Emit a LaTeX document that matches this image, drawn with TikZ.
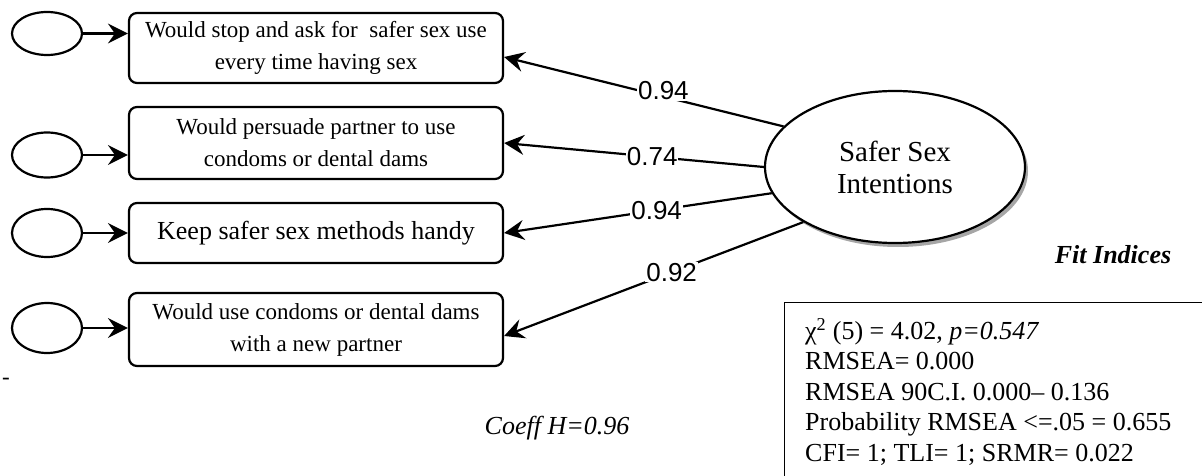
\documentclass[tikz,border=0pt]{standalone}
\usepackage{fontspec}
\setmainfont{Liberation Serif}
\newfontfamily\labfont{Liberation Sans}
\usetikzlibrary{arrows.meta,shapes.geometric,shadows}

\tikzset{
  itembox/.style={draw, line width=2.2pt, rounded corners=8pt, minimum width=374pt,
    align=center, inner sep=0pt, font=\fontsize{23}{32}\selectfont},
  errvar/.style={draw, ellipse, line width=2.2pt, minimum width=70pt, minimum height=46pt, inner sep=0pt},
  latent/.style={draw, ellipse, line width=2.2pt, minimum width=260pt, minimum height=152pt,
    inner sep=0pt, fill=white, align=center, font=\fontsize{29}{32}\selectfont,
    drop shadow={shadow xshift=3pt, shadow yshift=-4pt, fill=black!35, opacity=1}},
  arr/.style={line width=2.2pt, -{Stealth[length=20pt,width=20pt,inset=7pt]}},
  load/.style={fill=white, inner sep=1pt, font=\labfont\fontsize{26}{26}\selectfont},
}

\begin{document}
\begin{tikzpicture}[x=1pt,y=-1pt]
\useasboundingbox (0,0) rectangle (1202,476);
\clip (0,0) rectangle (1202,476);

% observed indicators
\node[itembox, minimum height=70pt] (b1) at (316,48) {Would stop and ask for\ \ safer sex use\\every time having sex};
\node[itembox, minimum height=72pt] (b2) at (316,143) {Would persuade partner to use\\condoms or dental dams};
\node[itembox, minimum height=60pt, font=\fontsize{26}{30}\selectfont] (b3) at (316,233) {Keep safer sex methods handy};
\node[itembox, minimum height=73pt] (b4) at (316,329.5) {Would use condoms or dental dams\\with a new partner};

% error terms
\node[errvar, minimum height=43pt] (e1) at (47,33.5) {};
\node[errvar, minimum height=45pt] (e2) at (47,155) {};
\node[errvar, minimum height=48pt] (e3) at (47,233) {};
\node[errvar, minimum height=50pt] (e4) at (47,328) {};

\draw[arr] (e1.east) -- (e1.east -| b1.west);
\draw[arr] (e2.east) -- (e2.east -| b2.west);
\draw[arr] (e3.east) -- (e3.east -| b3.west);
\draw[arr] (e4.east) -- (e4.east -| b4.west);

% latent factor
\node[latent] (f) at (895,167) {Safer Sex\\Intentions};

\draw[arr] (f.160) -- node[load, pos=0.43, yshift=6pt] (l1) {0.94} ([yshift=-9pt]b1.east);
\draw[arr] (f.180) -- node[load, pos=0.43] (l2) {0.74} (b2.east);
\draw[arr] (f.192.5) -- node[load, pos=0.43] (l3) {0.94} (b3.east);
\draw[arr] (f.211.4) -- node[load, pos=0.44] (l4) {0.92} ([yshift=-6.5pt]b4.east);

% stray mark
\node[font=\fontsize{23}{23}\selectfont, inner sep=0pt] (dash) at (6,381) {-};

% reliability
\node[font=\itshape\fontsize{26}{26}\selectfont, inner sep=0pt] (coeff) at (557,428) {Coeff H=0.96};

% fit indices
\node[font=\bfseries\itshape\fontsize{26}{26}\selectfont, inner sep=0pt] (fittitle) at (1113,255) {Fit Indices};
\node[draw, line width=1.2pt, anchor=north west, minimum width=440pt, minimum height=190pt] (fitbox) at (784,302) {};
\node[anchor=north west, align=left, inner sep=0pt, font=\fontsize{26}{30.5}\selectfont] (fittext) at (805,318)
  {χ\textsuperscript{2} (5) = 4.02, \textit{p=0.547}\\
   RMSEA= 0.000\\
   RMSEA 90C.I. 0.000– 0.136\\
   Probability RMSEA <=.05 = 0.655\\
   CFI= 1; TLI= 1; SRMR= 0.022};
\end{tikzpicture}
\end{document}
